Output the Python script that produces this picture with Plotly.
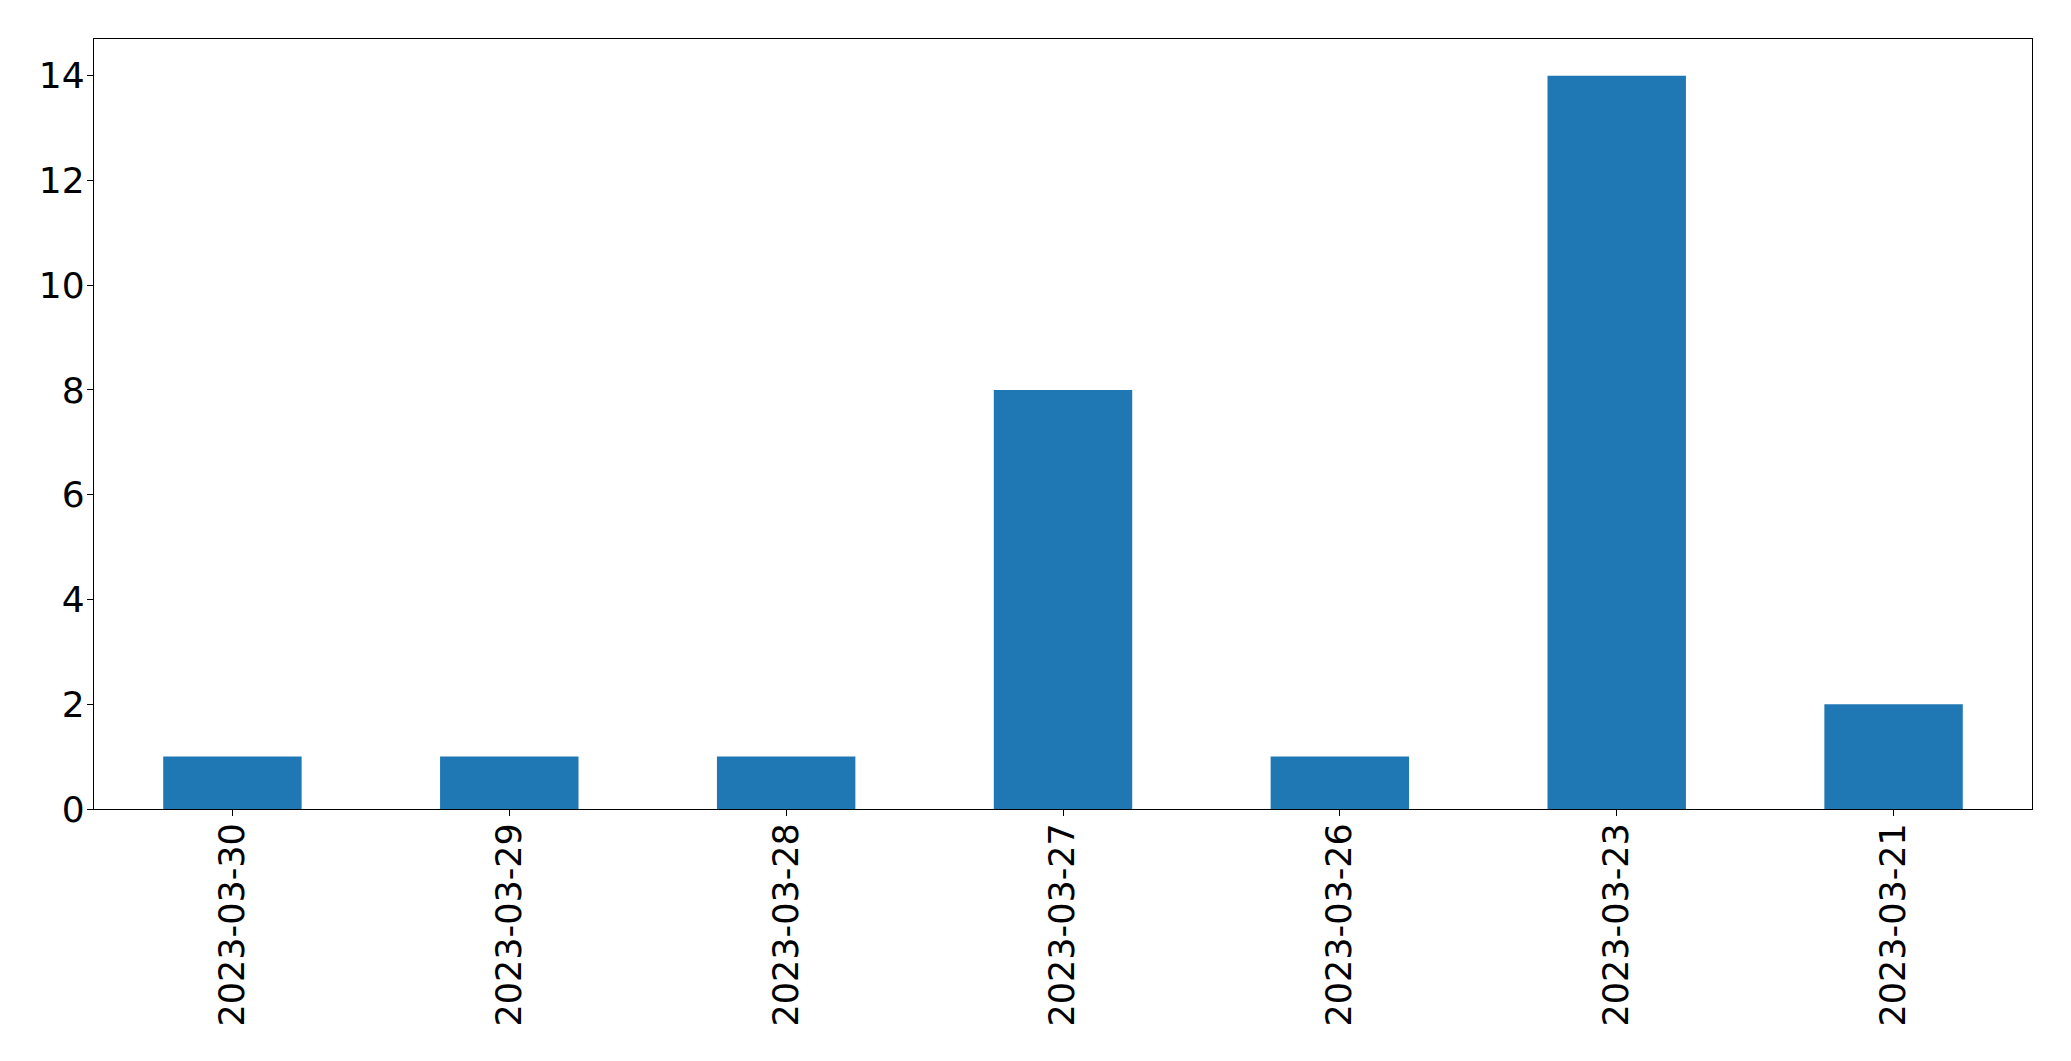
import plotly.graph_objects as go

dates = ["2023-03-30", "2023-03-29", "2023-03-28", "2023-03-27", "2023-03-26", "2023-03-23", "2023-03-21"]
counts = [1, 1, 1, 8, 1, 14, 2]
y_ticks = [0, 2, 4, 6, 8, 10, 12, 14]

fig = go.Figure(go.Bar(x=dates, y=counts, width=0.5, marker=dict(color="#1f77b4", line=dict(width=0))))

# page body has an 8px default margin
W, H = 2063, 1053
fig.update_layout(
    width=W, height=H,
    margin=dict(l=86, r=39, t=31, b=252, pad=0),
    paper_bgcolor="white", plot_bgcolor="white",
    font=dict(family="DejaVu Sans", size=35, color="black"),
    showlegend=False,
    bargap=0.5,
)
fig.update_xaxes(
    type="category", range=[-0.5, len(dates) - 0.5],
    tickangle=-90, ticks="outside", ticklen=6, tickwidth=1.3, tickcolor="black",
    showline=True, linecolor="black", linewidth=1.3, mirror=True,
    showgrid=False, zeroline=False, tickfont=dict(size=35),
    ticklabelstandoff=-7,
)
fig.update_yaxes(
    range=[0, 14.7], tickvals=y_ticks, ticktext=[str(v) for v in y_ticks],
    ticks="outside", ticklen=6, tickwidth=1.3, tickcolor="black",
    showline=True, linecolor="black", linewidth=1.3, mirror=True,
    showgrid=False, zeroline=False, tickfont=dict(size=36),
    ticklabelstandoff=-5,
)
fig.write_html("out.html")
